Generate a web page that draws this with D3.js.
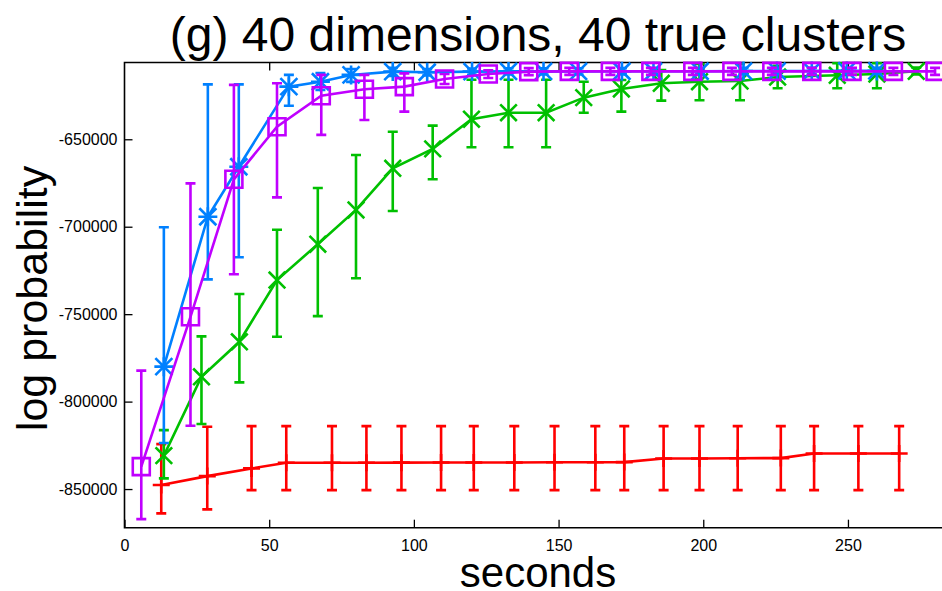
<!DOCTYPE html>
<html>
<head>
<meta charset="utf-8">
<script src="https://cdn.jsdelivr.net/npm/d3@7"></script>
<style>
  body { margin: 0; background: #fff; }
  svg { display: block; }
  text { font-family: "Liberation Sans", Arial, Helvetica, sans-serif; fill: #000; }
</style>
</head>
<body>
<svg id="chart" width="942" height="591"></svg>
<script>
// Tick values
const xTicks = [0, 50, 100, 150, 200, 250];
const yTicks = [-850000, -800000, -750000, -700000, -650000];

// Red series (+)
const redX  = [12.7, 28.6, 43.9, 55.9, 71.7, 83.6, 95.7, 109.4, 120.7, 134.7, 148.6, 162.7, 172.7, 186.3, 198.7, 211.9, 226.8, 238.3, 253.6, 267.7];
const redY  = [-847700, -842600, -838200, -835000, -835000, -835000, -834900, -834800, -834800, -834800, -834700, -834700, -834600, -832500, -832500, -832400, -832300, -829700, -829700, -829700];
const redLo = [-863900, -861600, -850600, -850600, -850600, -850600, -850600, -850600, -850600, -850600, -850600, -850600, -850600, -850600, -850600, -850600, -850600, -850600, -850600, -850600];
const redHi = [-824300, -814400, -814000, -814000, -814000, -814000, -814000, -814000, -814000, -814000, -814000, -814000, -814000, -814000, -814000, -814000, -814000, -814000, -814000, -814000];

// Green series (x)
const greenX  = [13.6, 26.6, 39.7, 52.7, 66.8, 80.0, 92.7, 106.5, 119.9, 132.7, 145.7, 158.7, 171.7, 185.5, 198.7, 212.7, 225.7, 246.3, 260.0, 273.6];
const greenY  = [-830900, -785800, -765800, -730500, -710000, -690400, -666600, -655500, -638500, -634800, -634800, -626200, -621200, -618000, -617100, -616700, -614400, -613400, -612700, -611100];
const greenLo = [-843900, -812800, -789000, -762900, -751100, -729500, -691000, -672900, -654600, -654600, -654600, -634800, -634200, -627900, -627700, -627700, -620800, -620800, -620800, -613000];
const greenHi = [-816300, -762700, -738500, -701700, -677900, -659000, -645700, -642200, -616000, -616000, -616000, -617100, -616100, -610400, -607000, -607000, -608000, -606500, -606500, -609000];

// Blue series (*)
const blueX  = [13.6, 28.8, 39.5, 56.8, 67.7, 78.3, 92.7, 104.6, 120.1, 132.7, 144.8, 156.9, 171.9, 182.8, 198.9, 213.9, 225.5, 237.5, 249.6, 260.0];
const blueY  = [-780000, -694300, -665700, -619900, -617100, -613200, -611300, -611700, -611300, -611200, -611200, -611200, -611100, -611100, -611100, -611000, -611000, -611000, -610900, -610900];
const blueLo = [-823700, -730100, -717500, -630800, -621800, -617200, -613800, -613500, -613200, -613000, -613000, -613000, -612900, -612900, -612900, -612800, -612800, -612800, -612700, -612700];
const blueHi = [-700300, -618600, -618600, -613200, -612100, -609800, -609200, -609900, -609500, -609400, -609400, -609400, -609300, -609300, -609300, -609200, -609200, -609200, -609100, -609100];

// Purple series (open squares)
const purpleX  = [5.8, 22.8, 37.8, 52.7, 68.0, 82.9, 96.7, 110.6, 125.7, 139.7, 153.7, 167.9, 181.9, 196.4, 209.9, 223.7, 237.5, 251.4, 265.7, 280.1];
const purpleY  = [-837200, -751500, -672900, -642800, -625100, -621400, -619900, -615500, -612700, -611300, -611200, -611200, -611200, -611200, -611200, -611200, -611200, -611200, -611200, -611200];
const purpleLo = [-867200, -813800, -727200, -683200, -647500, -639000, -634200, -618400, -615000, -613300, -613200, -613200, -613200, -613200, -613200, -613200, -613200, -613200, -613200, -613200];
const purpleHi = [-782300, -675200, -618900, -618000, -613200, -613200, -612300, -612700, -610500, -609300, -609200, -609200, -609200, -609200, -609200, -609200, -609200, -609200, -609200, -609200];

const series = [
  { color: "#ff0000", marker: "plus",   x: redX,    y: redY,    lo: redLo,    hi: redHi },
  { color: "#00c000", marker: "cross",  x: greenX,  y: greenY,  lo: greenLo,  hi: greenHi },
  { color: "#0080ff", marker: "star",   x: blueX,   y: blueY,   lo: blueLo,   hi: blueHi },
  { color: "#c000ff", marker: "square", x: purpleX, y: purpleY, lo: purpleLo, hi: purpleHi }
];

const svg = d3.select("#chart");
const plotLeft = 124.5, plotRight = 942, plotTop = 62.5, plotBottom = 527.7;

const x = d3.scaleLinear().domain([0, 282.5]).range([plotLeft, plotRight]);
const y = d3.scaleLinear().domain([-872100, -606100]).range([plotBottom, plotTop]);

// Title and axis labels
svg.append("text")
  .attr("x", 538).attr("y", 51)
  .attr("text-anchor", "middle")
  .style("font-size", "48px")
  .text("(g) 40 dimensions, 40 true clusters");

svg.append("text")
  .attr("transform", "translate(47,298.5) rotate(-90)")
  .attr("text-anchor", "middle")
  .style("font-size", "43px")
  .text("log probability");

svg.append("text")
  .attr("x", 538).attr("y", 587)
  .attr("text-anchor", "middle")
  .style("font-size", "42px")
  .text("seconds");

// Axes with inward ticks
const gx = svg.append("g").attr("transform", `translate(0,${plotBottom})`)
  .call(d3.axisBottom(x).tickValues(xTicks).tickSize(-8).tickSizeOuter(0).tickPadding(12).tickFormat(d => String(d)));
const gxTop = svg.append("g").attr("transform", `translate(0,${plotTop})`)
  .call(d3.axisTop(x).tickValues(xTicks.filter(v => v > 0)).tickSize(-8).tickSizeOuter(0).tickFormat(""));
const gy = svg.append("g").attr("transform", `translate(${plotLeft},0)`)
  .call(d3.axisLeft(y).tickValues(yTicks).tickSize(-8).tickSizeOuter(0).tickPadding(7).tickFormat(d => String(d)));

[gx, gxTop, gy].forEach(g => {
  g.select(".domain").remove();
  g.selectAll(".tick line").attr("stroke", "#000").attr("stroke-width", 1.3);
  g.selectAll(".tick text").style("font-size", "16px").attr("fill", "#000");
});

// Frame (left, top, bottom)
svg.append("path")
  .attr("d", `M${plotRight},${plotTop} H${plotLeft} V${plotBottom} H${plotRight}`)
  .attr("fill", "none").attr("stroke", "#000").attr("stroke-width", 1.6);

// Marker shapes
function markerPath(type) {
  const s = 8.5, c = 8.3, d = 8.5;
  switch (type) {
    case "plus":   return `M${-s},0H${s}M0,${-s}V${s}`;
    case "cross":  return `M${-c},${-c}L${c},${c}M${-c},${c}L${c},${-c}`;
    case "star":   return `M${-s - 1},0H${s + 1}M0,${-s - 1}V${s + 1}M${-d},${-d}L${d},${d}M${-d},${d}L${d},${-d}`;
    case "square": return `M${-s},${-s}H${s}V${s}H${-s}Z`;
  }
}

const cap = 5;
series.forEach(sr => {
  const pts = sr.x.map((v, i) => ({ x: v, y: sr.y[i], lo: sr.lo[i], hi: sr.hi[i] }));
  const g = svg.append("g")
    .attr("stroke", sr.color).attr("fill", "none")
    .attr("stroke-width", 2.6).attr("stroke-linecap", "butt");

  // error bars
  g.selectAll("path.err").data(pts).join("path")
    .attr("class", "err")
    .attr("d", d => {
      const xx = x(d.x), y0 = y(d.lo), y1 = y(d.hi);
      return `M${xx},${y0}V${y1}M${xx - cap},${y0}H${xx + cap}M${xx - cap},${y1}H${xx + cap}`;
    });

  // connecting line
  g.append("path")
    .attr("d", d3.line().x(d => x(d.x)).y(d => y(d.y))(pts));

  // point markers
  g.selectAll("path.mk").data(pts).join("path")
    .attr("class", "mk")
    .attr("transform", d => `translate(${x(d.x)},${y(d.y)})`)
    .attr("d", markerPath(sr.marker));
});
</script>
</body>
</html>
